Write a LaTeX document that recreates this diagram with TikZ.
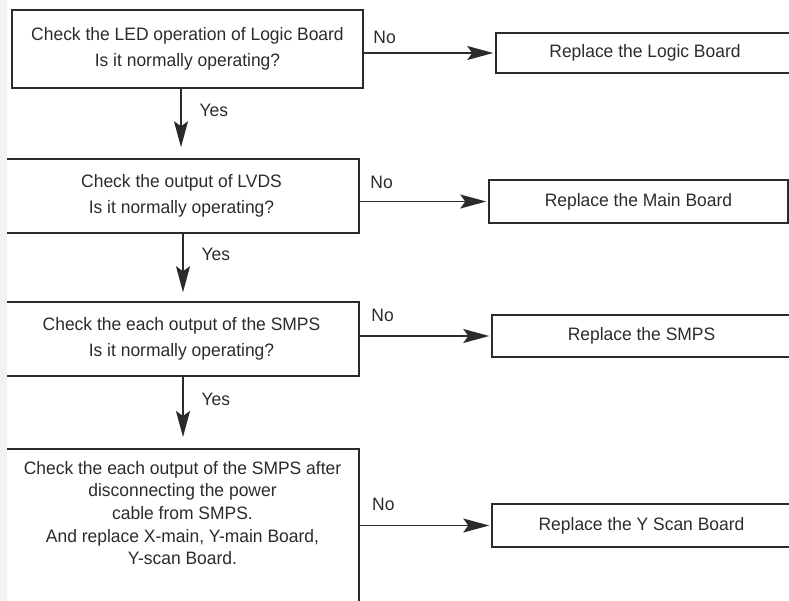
\documentclass[tikz,border=0pt]{standalone}
\usepackage{fontspec}
\setmainfont{Liberation Sans}[FakeStretch=0.97]
\usepackage{xcolor}
\usetikzlibrary{arrows.meta,positioning}
\definecolor{ink}{HTML}{2B2B2B}
\definecolor{margin}{HTML}{F2F2F2}

\begin{document}
\begin{tikzpicture}[x=1pt,y=-1pt,line cap=round,
  box/.style={draw=ink,line width=1.5pt,inner sep=0pt},
  note/.style={font=\fontsize{18}{26}\selectfont,text=ink,align=center},
  flow/.style={draw=ink,line width=1.3pt,-{Stealth[length=26pt,width=14pt,inset=5pt]}},
  tag/.style={font=\fontsize{18}{22}\selectfont,text=ink,inner sep=0pt}]
  \useasboundingbox (0,0) rectangle (789,601);
  \clip (0,0) rectangle (789,601);
  % checks on the left
  \node[box,note,minimum width=351pt,minimum height=78pt] (chk1) at (187.5,49)
    {Check the LED operation of Logic Board\\Is it normally operating?};
  \node[box,note,minimum width=355pt,minimum height=74pt] (chk2) at (181.5,196)
    {Check the output of LVDS\\Is it normally operating?};
  \node[box,note,minimum width=355pt,minimum height=74pt] (chk3) at (181.5,339)
    {Check the each output of the SMPS\\Is it normally operating?};
  \node[box,minimum width=354pt,minimum height=192pt,anchor=north west] (chk4) at (4,448) {};
  \node[note,font=\fontsize{18}{22.7}\selectfont] (chk4txt) at (182.5,513)
    {Check the each output of the SMPS after\\disconnecting the power\\cable from SMPS.\\And replace X-main, Y-main Board,\\Y-scan Board.};
  % repairs on the right
  \node[box,note,minimum width=298pt,minimum height=40pt] (rep1) at (645,53) {Replace the Logic Board};
  \node[box,note,minimum width=299pt,minimum height=43pt] (rep2) at (638.5,201.5) {Replace the Main Board};
  \node[box,note,minimum width=299pt,minimum height=42pt] (rep3) at (641.5,336) {Replace the SMPS};
  \node[box,note,minimum width=299pt,minimum height=43pt] (rep4) at (641.5,525.5) {Replace the Y Scan Board};
  % yes
  \draw[flow,shorten >=11pt] ([xshift=-6.5pt]chk1.south) -- ([xshift=-6.5pt]chk1.south |- chk2.north)
    node[tag,pos=0.4,anchor=base west,xshift=18pt]{Yes};
  \draw[flow,shorten >=9pt] ([xshift=1.5pt]chk2.south) -- ([xshift=1.5pt]chk2.south |- chk3.north)
    node[tag,pos=0.4,anchor=base west,xshift=18pt]{Yes};
  \draw[flow,shorten >=11pt] ([xshift=1.5pt]chk3.south) -- ([xshift=1.5pt]chk3.south |- chk4.north)
    node[tag,pos=0.4,anchor=base west,xshift=18pt]{Yes};
  % no
  \draw[flow,shorten >=2pt] (chk1.east |- rep1.west) -- (rep1.west)
    node[tag,pos=0,anchor=base west,xshift=9pt,yshift=9.5pt]{No};
  \draw[flow,shorten >=2pt] (chk2.east |- rep2.west) -- (rep2.west)
    node[tag,pos=0,anchor=base west,xshift=10pt,yshift=12.5pt]{No};
  \draw[flow,shorten >=2pt] (chk3.east |- rep3.west) -- (rep3.west)
    node[tag,pos=0,anchor=base west,xshift=11pt,yshift=14.5pt]{No};
  \draw[flow,shorten >=2pt] (chk4.east |- rep4.west) -- (rep4.west)
    node[tag,pos=0,anchor=base west,xshift=12pt,yshift=15.5pt]{No};
  \fill[margin] (0,0) rectangle (7,601);
\end{tikzpicture}
\end{document}
